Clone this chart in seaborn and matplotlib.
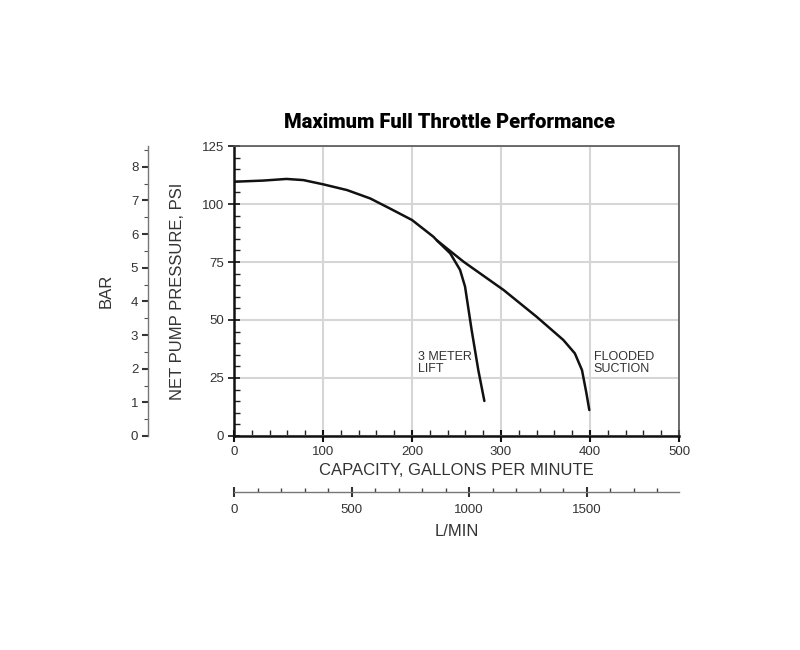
import matplotlib
matplotlib.use("Agg")
import matplotlib.pyplot as plt
from matplotlib.ticker import MultipleLocator
import seaborn as sns
import pandas as pd

# ---- data ----
common_gpm = [0, 33, 59, 78, 100, 127, 153, 175, 200, 224, 228]
common_psi = [109.6, 110.1, 110.8, 110.3, 108.5, 106.0, 102.4, 98.1, 93.1, 85.9, 84.3]
flooded_gpm = [258, 303, 340, 370, 383, 391, 396, 399.2]
flooded_psi = [75.1, 62.9, 51.4, 41.4, 35.6, 28.4, 18.4, 11.2]
lift_gpm = [243, 254, 259.6, 267, 274.5, 281.3]
lift_psi = [78.7, 71.6, 64.4, 45.7, 28.4, 15.1]

title = "Maximum Full Throttle Performance"
psi_ticks = [0, 25, 50, 75, 100, 125]
gpm_ticks = [0, 100, 200, 300, 400, 500]
bar_ticks = [0, 1, 2, 3, 4, 5, 6, 7, 8]
lmin_ticks = [0, 500, 1000, 1500]
PSI_PER_BAR = 14.5038
LPM_PER_GPM = 3.78541

sns.set_theme(style="white")
plt.rcParams["font.family"] = ["Liberation Sans", "DejaVu Sans"]

fig = plt.figure(figsize=(8, 6.5), dpi=100)
W, H = 800, 650
ax_l, ax_r, ax_t, ax_b = 234, 679, 146, 436
ax = fig.add_axes([ax_l / W, 1 - ax_b / H, (ax_r - ax_l) / W, (ax_b - ax_t) / H])

df = pd.concat([
    pd.DataFrame({"gpm": common_gpm + flooded_gpm, "psi": common_psi + flooded_psi, "curve": "flooded"}),
    pd.DataFrame({"gpm": common_gpm[-1:] + lift_gpm, "psi": common_psi[-1:] + lift_psi, "curve": "lift"}),
])
for name, sub in df.groupby("curve"):
    sns.lineplot(data=sub, x="gpm", y="psi", sort=False, estimator=None, ax=ax,
                 color="#111111", linewidth=1.8, legend=False)
for ln in ax.get_lines():
    ln.set_solid_joinstyle("round")

ax.set_xlim(0, 500)
ax.set_ylim(0, 125)
ax.set_xticks(gpm_ticks)
ax.set_yticks(psi_ticks)
ax.xaxis.set_minor_locator(MultipleLocator(20))
ax.yaxis.set_minor_locator(MultipleLocator(5))
ax.grid(True, which="major", color="#d6d6d6", linewidth=1.5)
ax.set_axisbelow(True)
for s in ["top", "right"]:
    ax.spines[s].set_color("#555555")
    ax.spines[s].set_linewidth(1.2)
for s in ["left", "bottom"]:
    ax.spines[s].set_color("#111111")
    ax.spines[s].set_linewidth(1.8)
ax.tick_params(axis="y", which="major", direction="inout", length=8, width=1.2, color="#111111",
               labelsize=9.5, labelcolor="#333333", pad=3, left=True)
ax.tick_params(axis="y", which="minor", direction="in", length=4, width=1, color="#222222", left=True)
ax.tick_params(axis="x", which="major", direction="inout", length=8, width=1.5, color="#111111",
               labelsize=9.5, labelcolor="#333333", pad=3, bottom=True)
ax.tick_params(axis="x", which="minor", direction="in", length=4, width=1, color="#222222", bottom=True)
ax.set_xlabel("CAPACITY, GALLONS PER MINUTE", fontsize=12, color="#333333", labelpad=4)
ax.set_ylabel("NET PUMP PRESSURE, PSI", fontsize=12, color="#333333", labelpad=12)

ax.text(207, 36.5, "3 METER\nLIFT", fontsize=9, color="#333333", va="top", ha="left", linespacing=1.0)
ax.text(404, 36.5, "FLOODED\nSUCTION", fontsize=9, color="#333333", va="top", ha="left", linespacing=1.0)

# ---- BAR secondary axis ----
bx = 148
axb = fig.add_axes([bx / W, 1 - ax_b / H, 0.0001, (ax_b - ax_t) / H])
axb.set_facecolor("none")
axb.set_ylim(0, 125 / PSI_PER_BAR)
axb.set_xticks([])
axb.set_yticks(bar_ticks)
axb.yaxis.set_minor_locator(MultipleLocator(0.5))
for s in ["top", "right", "bottom"]:
    axb.spines[s].set_visible(False)
axb.spines["left"].set_color("#777777")
axb.spines["left"].set_linewidth(1.0)
axb.tick_params(axis="y", which="major", direction="out", length=4, width=1.5, color="#333333",
                labelsize=9.5, labelcolor="#333333", pad=3, left=True)
axb.tick_params(axis="y", which="minor", direction="out", length=3, width=0.8, color="#555555", left=True)
axb.set_ylabel("BAR", fontsize=12, color="#333333", labelpad=12)

# ---- L/MIN secondary axis ----
ly = 492
axm = fig.add_axes([ax_l / W, 1 - ly / H, (ax_r - ax_l) / W, 0.0001])
axm.set_facecolor("none")
axm.set_xlim(0, 500 * LPM_PER_GPM)
axm.set_yticks([])
axm.set_xticks(lmin_ticks)
axm.xaxis.set_minor_locator(MultipleLocator(100))
for s in ["top", "right", "left"]:
    axm.spines[s].set_visible(False)
axm.spines["bottom"].set_color("#777777")
axm.spines["bottom"].set_linewidth(1.0)
axm.tick_params(axis="x", which="major", direction="inout", length=7, width=1.5, color="#333333",
                labelsize=9.5, labelcolor="#333333", pad=5, bottom=True)
axm.tick_params(axis="x", which="minor", direction="in", length=3, width=1, color="#444444", bottom=True)
axm.set_xlabel("L/MIN", fontsize=12, color="#333333", labelpad=6)

fig.text(449 / W, 1 - 122 / H, title, ha="center", va="center", fontsize=14.5, fontweight="black",
         family=["Roboto", "DejaVu Sans"], color="#000000")

fig.savefig("out.png", dpi=100, facecolor="white")
